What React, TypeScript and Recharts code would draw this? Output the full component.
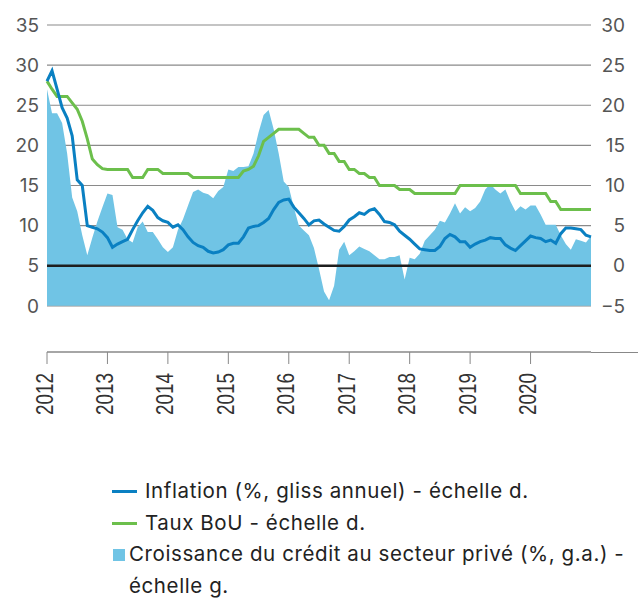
import { Area, ComposedChart, CartesianGrid, Line, ReferenceLine, XAxis, YAxis } from 'recharts';

// monthly, Jan 2012 -> Jan 2021 (index 0..108)
const inflation = [
  23.0, 24.3, 22.0, 19.7, 18.4, 16.2, 10.7, 10.0, 5.0, 4.8, 4.6, 4.2,
  3.5, 2.3, 2.7, 3.0, 3.3, 4.5, 5.6, 6.6, 7.4, 6.9, 6.0, 5.6,
  5.4, 4.8, 5.1, 4.5, 3.6, 2.9, 2.5, 2.3, 1.8, 1.6, 1.7, 2.0,
  2.6, 2.8, 2.8, 3.6, 4.7, 4.9, 5.0, 5.4, 5.9, 7.0, 7.9, 8.2,
  8.3, 7.3, 6.6, 5.9, 5.1, 5.6, 5.7, 5.2, 4.8, 4.4, 4.3, 4.9,
  5.7, 6.1, 6.6, 6.4, 6.9, 7.1, 6.4, 5.5, 5.4, 5.1, 4.3, 3.8,
  3.3, 2.7, 2.1, 2.0, 1.9, 1.9, 2.4, 3.4, 3.9, 3.6, 3.0, 3.0,
  2.3, 2.7, 3.0, 3.2, 3.5, 3.4, 3.4, 2.6, 2.2, 1.9, 2.5, 3.1,
  3.7, 3.5, 3.4, 3.0, 3.2, 2.8, 4.0, 4.7, 4.7, 4.6, 4.5, 3.8,
  3.6,
];

const tauxBoU = [
  23.0, 22.0, 21.1, 21.1, 21.1, 20.3, 19.5, 18.0, 15.8, 13.3, 12.6, 12.1,
  12, 12, 12, 12, 12, 11, 11, 11, 12, 12, 12, 11.5,
  11.5, 11.5, 11.5, 11.5, 11.5, 11, 11, 11, 11, 11, 11, 11,
  11, 11, 11, 11.8, 12, 12.4, 13.7, 15.5, 16, 16.5, 17, 17,
  17, 17, 17, 16.5, 16, 16, 15, 15, 14, 14, 13, 13,
  12, 12, 11.5, 11.5, 11, 11, 10, 10, 10, 10, 9.5, 9.5,
  9.5, 9, 9, 9, 9, 9, 9, 9, 9, 9, 10, 10,
  10, 10, 10, 10, 10, 10, 10, 10, 10, 10, 9, 9,
  9, 9, 9, 9, 8, 8, 7, 7, 7, 7, 7, 7,
  7,
];

const credit = [
  27.0, 24.0, 24.0, 22.8, 19.0, 13.5, 11.8, 8.8, 6.3, 8.5, 10.5, 12.3,
  14.0, 13.8, 9.8, 9.5, 8.3, 7.9, 9.8, 10.5, 9.2, 9.2, 8.3, 7.3,
  6.7, 7.3, 9.5, 10.8, 12.5, 14.2, 14.5, 14.1, 13.9, 13.4, 14.3, 14.8,
  17.0, 16.8, 17.3, 17.3, 17.4, 19.0, 21.6, 23.8, 24.4, 22.0, 19.0, 15.5,
  14.8, 12.3, 10.0, 9.4, 8.8, 7.2, 4.6, 1.8, 0.7, 2.5, 7.0, 8.0,
  6.3, 6.8, 7.4, 7.1, 6.8, 6.3, 5.8, 5.8, 6.1, 6.1, 6.3, 3.3,
  6.0, 5.8, 6.5, 8.1, 8.8, 9.5, 10.6, 10.4, 11.5, 12.8, 11.5, 12.3,
  11.8, 12.2, 13.0, 14.5, 15.2, 14.5, 14.0, 14.5, 13.0, 11.8, 12.4, 12.0,
  12.5, 12.5, 11.4, 10.1, 10.1, 10.1, 8.8, 7.7, 7.0, 8.3, 8.1, 7.9,
  8.7,
];

const yearTicks = [0, 12, 24, 36, 48, 60, 72, 84, 96];
const leftTicks = [0, 5, 10, 15, 20, 25, 30, 35];
const rightTicks = [-5, 0, 5, 10, 15, 20, 25, 30];

const data = credit.map((c, i) => ({
  i,
  credit: c,
  inflation: inflation[i],
  taux: tauxBoU[i],
}));

const BLUE = '#0a80c2';
const GREEN = '#6cbf4c';
const AREA = '#70c4e5';

function YearTick({ x, y, payload }: any) {
  const label = String(2012 + payload.value / 12);
  return (
    <text
      transform={`translate(${x + 5.5}, ${y + 7}) rotate(-90) scale(0.82, 1)`}
      textAnchor="end"
      fontFamily="Liberation Sans, Arial, sans-serif"
      fontSize={23}
      fill="#333"
    >
      {label}
    </text>
  );
}

function RightTick({ x, y, payload }: any) {
  const v = payload.value as number;
  return (
    <text x={x + 26} y={y} dy="0.355em" textAnchor="end" fontFamily="Inter, sans-serif" fontSize={19} fill="#555">
      {v < 0 ? `\u2212${Math.abs(v)}` : v}
    </text>
  );
}

function LegendRow({ kind, color, children }: any) {
  return (
    <div style={{ display: 'flex', alignItems: 'flex-start' }}>
      {kind === 'line' ? (
        <span style={{ width: 25, height: 3, background: color, marginTop: 15, marginRight: 8, flex: 'none' }} />
      ) : (
        <span style={{ width: 12, height: 12, background: color, marginTop: 11, marginLeft: 1, marginRight: 4, flex: 'none' }} />
      )}
      <span>{children}</span>
    </div>
  );
}

export default function App() {
  return (
    <div style={{ position: 'absolute', left: 0, top: 0, width: 638, height: 601, background: '#fff' }}>
      <ComposedChart width={638} height={460} data={data} margin={{ top: 25, right: 0, bottom: 0, left: 0 }}>
        <XAxis
          dataKey="i"
          type="number"
          domain={[0, 108]}
          ticks={yearTicks}
          interval={0}
          tickSize={12}
          stroke="#888"
          tick={<YearTick />}
          height={108}
        />
        <YAxis
          yAxisId="left"
          orientation="left"
          domain={[-5.75, 35]}
          ticks={leftTicks}
          interval={0}
          axisLine={false}
          tickLine={false}
          width={47}
          tick={{ fontSize: 19, fill: '#555', fontFamily: 'Inter, sans-serif' }}
        />
        <YAxis
          yAxisId="right"
          orientation="right"
          domain={[-10.75, 30]}
          ticks={rightTicks}
          interval={0}
          axisLine={false}
          tickLine={false}
          width={47}
          tick={<RightTick />}
        />
        <Area
          yAxisId="left"
          dataKey="credit"
          type="linear"
          fill={AREA}
          fillOpacity={1}
          stroke="none"
          baseValue={0}
          isAnimationActive={false}
        />
        <CartesianGrid yAxisId="left" vertical={false} stroke="#8a8a8a" strokeWidth={1.2} />
        <ReferenceLine yAxisId="right" y={0} stroke="#1e1e1e" strokeWidth={2.5} />
        <Line
          yAxisId="right"
          dataKey="taux"
          type="linear"
          stroke={GREEN}
          strokeWidth={3}
          dot={false}
          isAnimationActive={false}
        />
        <Line
          yAxisId="right"
          dataKey="inflation"
          type="linear"
          stroke={BLUE}
          strokeWidth={3}
          dot={false}
          isAnimationActive={false}
        />
      </ComposedChart>
      <div style={{ position: 'absolute', left: 591, top: 351.5, width: 47, height: 1, background: '#888' }} />
      <div
        style={{
          position: 'absolute',
          left: 112,
          top: 475,
          fontFamily: 'Inter, sans-serif',
          fontSize: 20.5,
          letterSpacing: '0.6px',
          lineHeight: '31.5px',
          color: '#222',
          whiteSpace: 'nowrap',
        }}
      >
        <LegendRow kind="line" color={BLUE}>Inflation (%, gliss annuel) - échelle d.</LegendRow>
        <LegendRow kind="line" color={GREEN}>Taux BoU - échelle d.</LegendRow>
        <LegendRow kind="square" color={AREA}>
          Croissance du crédit au secteur privé (%, g.a.) -
          <br />
          échelle g.
        </LegendRow>
      </div>
    </div>
  );
}
